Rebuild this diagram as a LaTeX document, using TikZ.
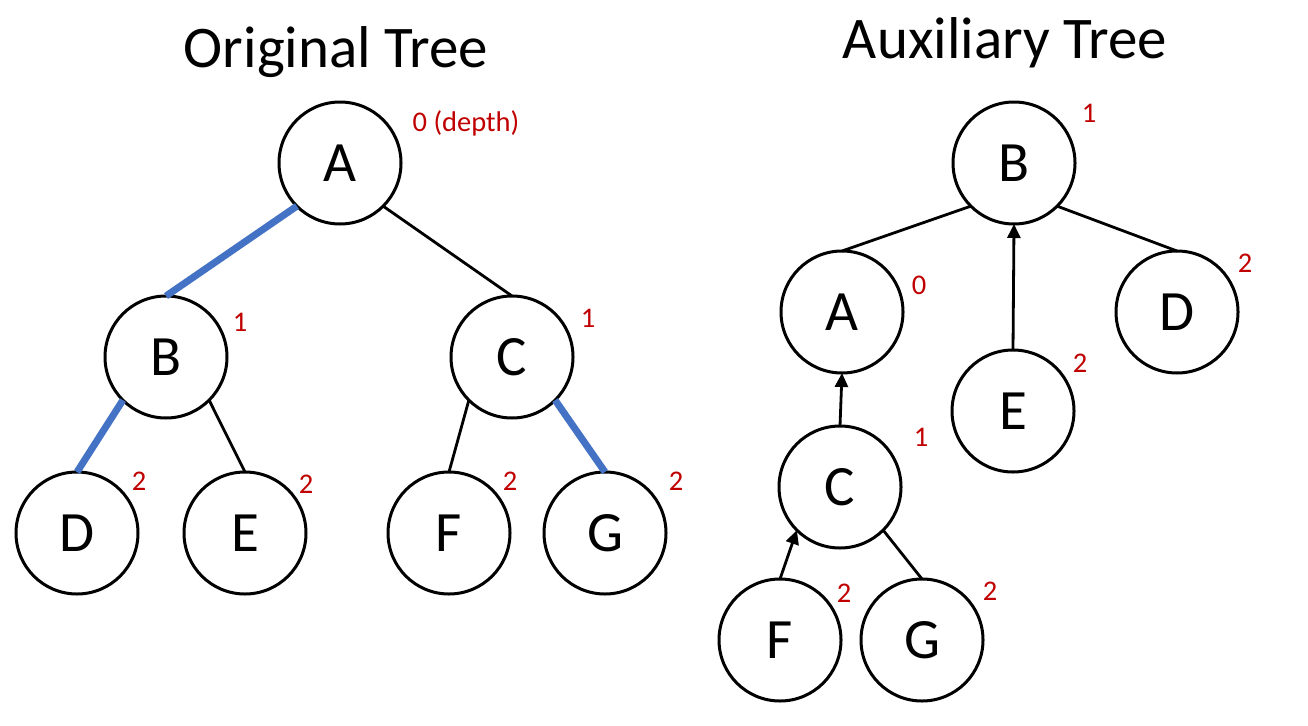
\documentclass[tikz,border=0pt]{standalone}
\usepackage{fontspec}
\setmainfont{Carlito}
\usetikzlibrary{arrows.meta}
\definecolor{depthred}{RGB}{192,0,0}
\definecolor{pathblue}{RGB}{68,114,196}
\begin{document}
\begin{tikzpicture}[x=1pt,y=-1pt,
  tnode/.style={circle,draw=black,line width=3pt,minimum size=122pt,inner sep=0pt,outer sep=0pt,fill=white,font=\fontsize{57}{60}\selectfont},
  dlabel/.style={text=depthred,font=\fontsize{28.5}{30}\selectfont,inner sep=0pt},
  ttl/.style={font=\fontsize{59}{64}\selectfont,anchor=base,inner sep=0pt},
  edge/.style={draw=black,line width=2.8pt},
  heavy/.style={draw=pathblue,line width=7pt},
  arr/.style={draw=black,line width=2.8pt,-{Triangle[length=14pt,width=13pt]}}]
\useasboundingbox (0,0) rectangle (1308,725);
% titles
\node[ttl] (t1) at (336,67) {Original Tree};
\node[ttl] (t2) at (1005,59) {Auxiliary Tree};
% original tree
\node[tnode] (A) at (340,163) {A};
\node[tnode] (B) at (166,357) {B};
\node[tnode] (C) at (512,357) {C};
\node[tnode] (D) at (77,533) {D};
\node[tnode] (E) at (245,533) {E};
\node[tnode] (F) at (449,533) {F};
\node[tnode] (G) at (605,533) {G};
\draw[heavy] (A.south west) -- (B.north);
\draw[edge] (A.south east) -- (C.north);
\draw[heavy] (B.south west) -- (D.north);
\draw[edge] (B.south east) -- (E.north);
\draw[edge] (C.south west) -- (F.north);
\draw[heavy] (C.south east) -- (G.north);
\node[dlabel] (lA) at (466,123) {0 (depth)};
\node[dlabel] (lB) at (240,322) {1};
\node[dlabel] (lC) at (588,318) {1};
\node[dlabel] (lD) at (139,481) {2};
\node[dlabel] (lE) at (306,484) {2};
\node[dlabel] (lF) at (510,481) {2};
\node[dlabel] (lG) at (676,481) {2};
% auxiliary tree
\node[tnode] (aB) at (1014,163) {B};
\node[tnode] (aA) at (842,312) {A};
\node[tnode] (aD) at (1177,312) {D};
\node[tnode] (aE) at (1013,411) {E};
\node[tnode] (aC) at (840,487) {C};
\node[tnode] (aF) at (780,640) {F};
\node[tnode] (aG) at (922,640) {G};
\draw[edge] (aB.south west) -- (aA.north);
\draw[edge] (aB.south east) -- (aD.north);
\draw[arr] (aE.north) -- (aB.south);
\draw[arr] (aC.north) -- (aA.south);
\draw[arr] (aF.north) -- (aC.south west);
\draw[edge] (aC.south east) -- (aG.north);
\node[dlabel] (lbB) at (1089,113) {1};
\node[dlabel] (lbA) at (919,285) {0};
\node[dlabel] (lbD) at (1245,263) {2};
\node[dlabel] (lbE) at (1080,363) {2};
\node[dlabel] (lbC) at (921,437) {1};
\node[dlabel] (lbF) at (844,593) {2};
\node[dlabel] (lbG) at (990,591) {2};
\end{tikzpicture}
\end{document}
